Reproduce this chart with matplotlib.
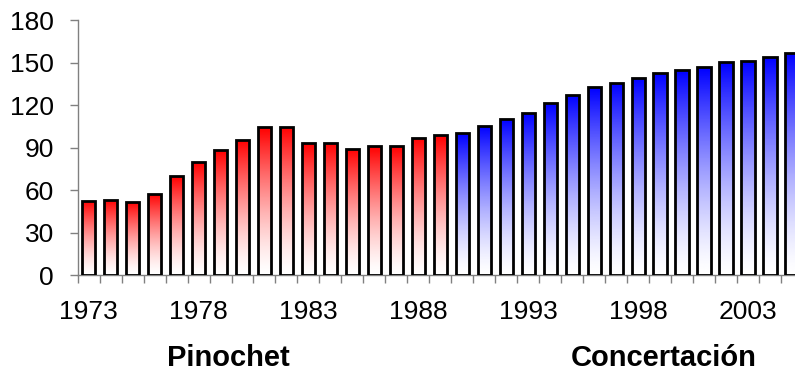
import numpy as np
import matplotlib.pyplot as plt
from matplotlib.colors import LinearSegmentedColormap

plt.rcParams['font.family'] = ['Liberation Sans', 'DejaVu Sans']

# values
years = list(range(1973, 2006))
pinochet_vals = [52.5, 53.2, 51.8, 57.4, 69.6, 79.5, 88.0, 95.5, 104.2, 104.5,
                 93.0, 93.2, 89.2, 91.0, 90.8, 97.0, 98.6]
concert_vals = [100.2, 105.4, 110.4, 114.1, 121.4, 127.3, 132.7, 135.8,
                139.3, 142.8, 144.7, 146.8, 150.1, 151.3, 153.9, 156.9]
values = pinochet_vals + concert_vals
yticks = [0, 30, 60, 90, 120, 150, 180]
label_years = [1973, 1978, 1983, 1988, 1993, 1998, 2003]

red_cmap = LinearSegmentedColormap.from_list('r', ['#ffffff', '#ff0000'])
blue_cmap = LinearSegmentedColormap.from_list('b', ['#ffffff', '#0000ff'])

fig = plt.figure(figsize=(7.95, 3.73), dpi=100)
ax = fig.add_axes([0.0977, 0.2627, 0.9123, 0.6836])

x = np.arange(len(years))
w = 0.6
bars = ax.bar(x, values, width=w, fill=False, edgecolor='black', linewidth=2, zorder=3)

# white at the bottom, full colour at the top of each bar
grad = (np.linspace(0, 1, 256) ** 1.4).reshape(-1, 1)
for i, b in enumerate(bars):
    cmap = red_cmap if i < len(pinochet_vals) else blue_cmap
    im = ax.imshow(grad, cmap=cmap, vmin=0, vmax=1, origin='lower', aspect='auto',
                   extent=[x[i] - w / 2, x[i] + w / 2, 0, values[i]], zorder=2)
    im.set_clip_path(b)

ax.set_xlim(-0.5, len(years) - 0.5)
ax.set_ylim(0, 180)
ax.set_yticks(yticks)
ax.set_xticks([years.index(y) for y in label_years])
ax.set_xticklabels([str(y) for y in label_years])
ax.set_xticks(np.arange(len(years) + 1) - 0.5, minor=True)

for s in ['top', 'right']:
    ax.spines[s].set_visible(False)
for s in ['left', 'bottom']:
    ax.spines[s].set_color('#808080')
    ax.spines[s].set_linewidth(1)

ax.tick_params(axis='y', length=6, width=1, color='#808080', pad=11, labelsize=19)
ax.tick_params(axis='x', which='major', length=0, pad=18, labelsize=19)
ax.tick_params(axis='x', which='minor', length=6, width=1, color='#808080')

fig.text(228 / 795, 1 - 357.7 / 373, 'Pinochet', fontsize=21, fontweight='bold',
         ha='center', va='center')
fig.text(664 / 795, 1 - 357.7 / 373, 'Concertación', fontsize=21, fontweight='bold',
         ha='center', va='center')

fig.savefig('out.png', dpi=100)
